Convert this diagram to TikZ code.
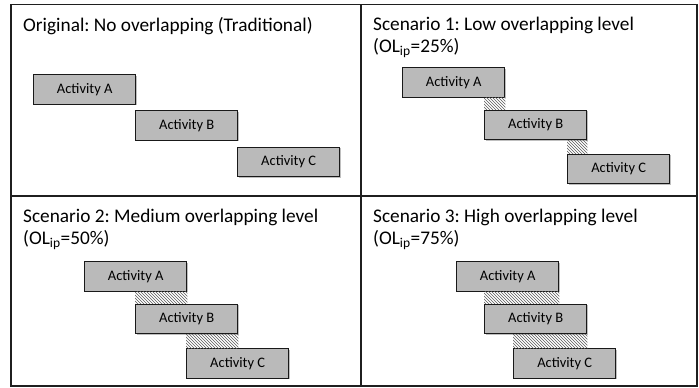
\documentclass[tikz,border=0pt]{standalone}
\usepackage{fontspec}
\setmainfont{Carlito}
\usetikzlibrary{patterns,shadows}
\begin{document}
\frenchspacing
\begin{tikzpicture}[x=1pt,y=-1pt,
  act/.style={draw=black!90, line width=1.4pt, fill=black!27, rectangle,
    minimum width=102pt, minimum height=29.5pt, anchor=north west, inner sep=0pt,
    font=\fontsize{14.5}{16}\selectfont,
    drop shadow={shadow xshift=1.2pt, shadow yshift=-1.2pt, fill=black, opacity=0.25}},
  hatch/.style={pattern=north west lines, pattern color=black!65},
  frame/.style={draw=black!88, line width=1.6pt},
  ttl/.style={anchor=base west, inner sep=0pt, font=\fontsize{19.3}{22}\selectfont}]
\useasboundingbox (0,0) rectangle (699,388);
% frame
\coordinate (tl) at (11,4.5);
\coordinate (br) at (697,386);
\draw[frame] (tl) rectangle (br);
\draw[frame] (361,4.5) -- (361,386);
\draw[frame] (11,196) -- (697,196);
% panel 1
\node[ttl] (t1) at (23,31) {Original: No overlapping (Traditional)};
\node[act] (a1) at (33,74) {Activity A};
\node[act] (b1) at (135,110) {Activity B};
\node[act] (c1) at (237,146.5) {Activity C};
% panel 2
\node[ttl] (t2) at (373,30) {Scenario 1: Low overlapping level};
\node[ttl] (t2b) at (373,52) {(OL\textsubscript{ip}=25\%)};
\node[act] (a2) at (402,67) {Activity A};
\node[act] (b2) at (484,109.5) {Activity B};
\node[act] (c2) at (567,153.5) {Activity C};
\fill[hatch] (b2.north west) rectangle (a2.south east);
\fill[hatch] (c2.north west) rectangle (b2.south east);
% panel 3
\node[ttl] (t3) at (23,222) {Scenario 2: Medium overlapping level};
\node[ttl] (t3b) at (23,244) {(OL\textsubscript{ip}=50\%)};
\node[act] (a3) at (84,261) {Activity A};
\node[act] (b3) at (135,303.5) {Activity B};
\node[act] (c3) at (186,348) {Activity C};
\fill[hatch] (b3.north west) rectangle (a3.south east);
\fill[hatch] (c3.north west) rectangle (b3.south east);
% panel 4
\node[ttl] (t4) at (373,222) {Scenario 3: High overlapping level};
\node[ttl] (t4b) at (373,244) {(OL\textsubscript{ip}=75\%)};
\node[act] (a4) at (456,261) {Activity A};
\node[act] (b4) at (484,303.5) {Activity B};
\node[act] (c4) at (513,348) {Activity C};
\fill[hatch] (b4.north west) rectangle (a4.south east);
\fill[hatch] (c4.north west) rectangle (b4.south east);
\end{tikzpicture}
\end{document}
